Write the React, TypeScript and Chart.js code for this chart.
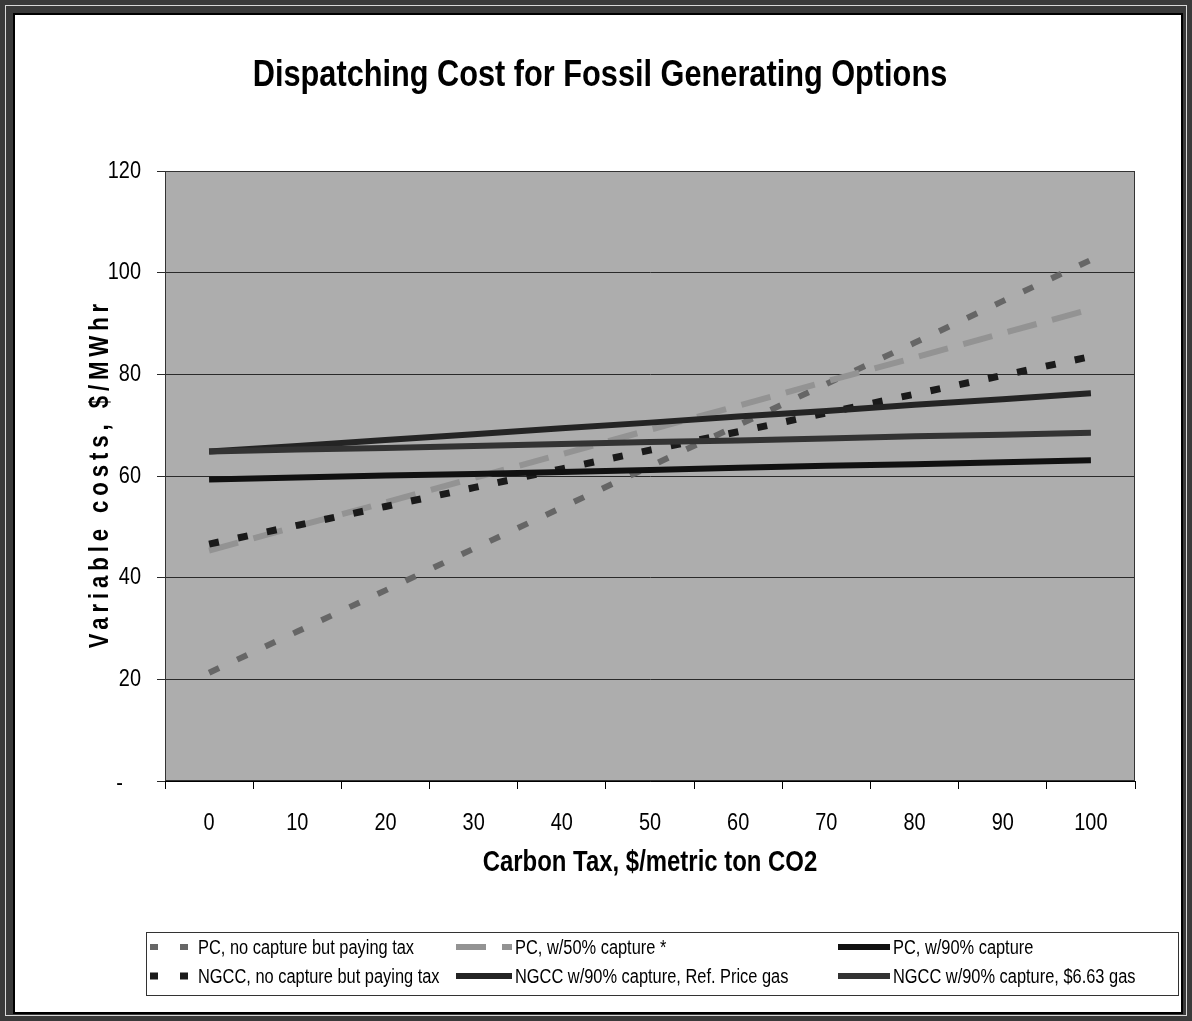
import { useEffect, useRef } from "react";
import { Chart, registerables } from "chart.js";

Chart.register(...registerables);

// Carbon tax levels, $/metric ton CO2
const taxLevels = ["0", "10", "20", "30", "40", "50", "60", "70", "80", "90", "100"];

// Variable (dispatching) costs, $/MWhr
const pcNoCapture = [21.3, 29.4, 37.5, 45.7, 53.8, 61.9, 70, 78.1, 86.2, 94.4, 102.5];
const pc50Capture = [45.3, 50.1, 54.8, 59.6, 64.3, 69.1, 73.8, 78.6, 83.3, 88.1, 92.8];
const pc90Capture = [59.3, 59.7, 60.1, 60.4, 60.8, 61.2, 61.6, 62, 62.3, 62.7, 63.1];
const ngccNoCapture = [46.6, 50.3, 54, 57.7, 61.4, 65.1, 68.7, 72.4, 76.1, 79.8, 83.5];
const ngcc90RefGas = [64.8, 65.9, 67.1, 68.2, 69.4, 70.5, 71.7, 72.8, 74, 75.1, 76.3];
const ngcc90HighGas = [64.8, 65.2, 65.5, 65.9, 66.3, 66.7, 67, 67.4, 67.8, 68.1, 68.5];

const yMin = 0;
const yMax = 120;
const yStep = 20;
const zeroLabel = "-";

const chartTitle = "Dispatching Cost for Fossil Generating Options";
const xAxisTitle = "Carbon Tax, $/metric ton CO2";
const yAxisTitle = "Variable costs, $/MWhr";

const seriesLabels = [
  "PC, no capture but paying tax",
  "PC, w/50% capture *",
  "PC, w/90% capture",
  "NGCC, no capture but paying tax",
  "NGCC w/90% capture, Ref. Price gas",
  "NGCC w/90% capture, $6.63 gas",
];

const FONT = "'Liberation Sans', Arial, sans-serif";
// the chart uses a narrow face; glyphs are squeezed horizontally
const SQUEEZE = 0.82;

const W = 1192;
const H = 1021;

// legend grid: [marker start, marker end, text start] per column and row centres
const legendCols = [
  [150, 192, 198],
  [456, 512, 515],
  [838, 890, 893],
];
const legendRows = [947, 976];

function squeezedText(ctx: CanvasRenderingContext2D, text: string, x: number, y: number, sx: number) {
  ctx.save();
  ctx.translate(x, y);
  ctx.scale(sx, 1);
  ctx.fillText(text, 0, 0);
  ctx.restore();
}

const decorPlugin = {
  id: "decor",
  beforeDraw(chart: any) {
    const { ctx, chartArea } = chart;
    ctx.save();
    // page and frame
    ctx.fillStyle = "#ffffff";
    ctx.fillRect(0, 0, W, H);
    ctx.fillStyle = "#3a3a3a";
    ctx.fillRect(0, 0, W, 14);
    ctx.fillRect(0, 0, 14, H);
    ctx.fillRect(W - 10, 0, 10, H);
    ctx.fillRect(0, H - 8, W, 8);
    ctx.strokeStyle = "#d8d8d8";
    ctx.lineWidth = 1;
    ctx.strokeRect(5.5, 5.5, W - 11, H - 11);
    ctx.strokeStyle = "#000";
    ctx.lineWidth = 2;
    ctx.strokeRect(14, 14, W - 24, H - 22);
    // plot area fill
    ctx.fillStyle = "#adadad";
    ctx.fillRect(chartArea.left, chartArea.top, chartArea.right - chartArea.left, chartArea.bottom - chartArea.top);
    ctx.restore();
  },
  beforeDatasetsDraw(chart: any) {
    const { ctx, chartArea } = chart;
    ctx.save();
    ctx.strokeStyle = "#333";
    ctx.lineWidth = 1;
    ctx.strokeRect(chartArea.left + 0.5, chartArea.top + 0.5, chartArea.right - chartArea.left - 1, chartArea.bottom - chartArea.top - 1);
    ctx.restore();
  },
  afterDraw(chart: any) {
    const { ctx, chartArea, scales } = chart;
    ctx.save();
    ctx.fillStyle = "#000";
    ctx.textBaseline = "middle";

    // tick labels at the scales' own positions
    ctx.font = `24px ${FONT}`;
    const xs = scales.x;
    ctx.textAlign = "center";
    xs.ticks.forEach((t: any, i: number) => {
      squeezedText(ctx, String(xs.getLabelForValue(t.value)), xs.getPixelForTick(i), 823, 0.83);
    });
    const ys = scales.y;
    ctx.textAlign = "right";
    const digitPair = ctx.measureText("00").width * 0.83;
    ys.ticks.forEach((t: any) => {
      const y = ys.getPixelForValue(t.value);
      if (t.value === 0) {
        squeezedText(ctx, zeroLabel, 141 - digitPair + 4, y + 2, 0.83);
      } else {
        squeezedText(ctx, String(t.value), 141, y, 0.83);
      }
    });

    ctx.textAlign = "center";
    // main title
    ctx.font = `bold 37px ${FONT}`;
    squeezedText(ctx, chartTitle, 600, 76, 0.83);

    // x axis title
    ctx.font = `bold 29px ${FONT}`;
    squeezedText(ctx, xAxisTitle, (chartArea.left + chartArea.right) / 2, 863, 0.825);

    // y axis title, spaced out
    ctx.save();
    ctx.translate(101, (chartArea.top + chartArea.bottom) / 2);
    ctx.rotate(-Math.PI / 2);
    ctx.scale(SQUEEZE, 1);
    ctx.font = `bold 27px ${FONT}`;
    (ctx as any).letterSpacing = "6px";
    ctx.fillText(yAxisTitle, 3, 0);
    ctx.restore();

    // legend box
    ctx.strokeStyle = "#333";
    ctx.lineWidth = 1;
    ctx.strokeRect(146.5, 932.5, 1032, 63);

    ctx.font = `20px ${FONT}`;
    ctx.textAlign = "left";
    chart.data.datasets.forEach((ds: any, i: number) => {
      const col = legendCols[i % 3];
      const y = legendRows[Math.floor(i / 3)];
      ctx.save();
      ctx.strokeStyle = ds.borderColor;
      ctx.lineWidth = ds.borderWidth;
      ctx.setLineDash(ds.legendDash || ds.borderDash || []);
      ctx.beginPath();
      ctx.moveTo(col[0], y);
      ctx.lineTo(col[1], y);
      ctx.stroke();
      ctx.restore();
      ctx.fillStyle = "#000";
      squeezedText(ctx, ds.label, col[2], y + 1, SQUEEZE);
    });
    ctx.restore();
  },
};

export default function App() {
  const canvasRef = useRef<HTMLCanvasElement | null>(null);

  useEffect(() => {
    if (!canvasRef.current) return;
    const line = (label: string, data: number[], color: string, width: number, dash: number[], order: number, legendDash?: number[]) => ({
      label,
      data,
      borderColor: color,
      backgroundColor: color,
      borderWidth: width,
      borderDash: dash,
      legendDash,
      borderCapStyle: "butt" as const,
      pointRadius: 0,
      pointHoverRadius: 0,
      fill: false,
      tension: 0,
      order,
    });

    const chart = new Chart(canvasRef.current, {
      type: "line",
      data: {
        labels: taxLevels,
        datasets: [
          line(seriesLabels[0], pcNoCapture, "#666666", 6, [11, 20], 6, [8, 22]),
          line(seriesLabels[1], pc50Capture, "#939393", 6, [30, 16], 5),
          line(seriesLabels[2], pc90Capture, "#111111", 6, [], 3),
          line(seriesLabels[3], ngccNoCapture, "#1a1a1a", 7, [10, 19.5], 4, [8, 22]),
          line(seriesLabels[4], ngcc90RefGas, "#242424", 6, [], 2),
          line(seriesLabels[5], ngcc90HighGas, "#333333", 6, [], 1),
        ],
      },
      options: {
        animation: false,
        responsive: false,
        maintainAspectRatio: false,
        events: [],
        layout: { padding: { top: 171, right: W - 1135, bottom: 160, left: 0 } },
        plugins: {
          legend: { display: false },
          title: { display: false },
          tooltip: { enabled: false },
        },
        scales: {
          x: {
            type: "category",
            offset: true,
            grid: { offset: true, drawOnChartArea: false, color: "#000", tickLength: 8, lineWidth: 1 },
            border: { color: "#000", width: 1 },
            ticks: { display: false, autoSkip: false, maxRotation: 0 },
            afterFit: (s: any) => {
              s.height = 80;
            },
          },
          y: {
            min: yMin,
            max: yMax,
            ticks: { display: false, stepSize: yStep },
            grid: { color: "#2a2a2a", tickLength: 8, lineWidth: 1 },
            border: { color: "#000", width: 1 },
            afterFit: (s: any) => {
              s.width = 165;
            },
          },
        },
      },
      plugins: [decorPlugin],
    });
    return () => chart.destroy();
  }, []);

  return (
    <div style={{ position: "fixed", left: 0, top: 0, width: W, height: H, background: "#fff" }}>
      <canvas ref={canvasRef} width={W} height={H} style={{ display: "block", width: W, height: H }} />
    </div>
  );
}
